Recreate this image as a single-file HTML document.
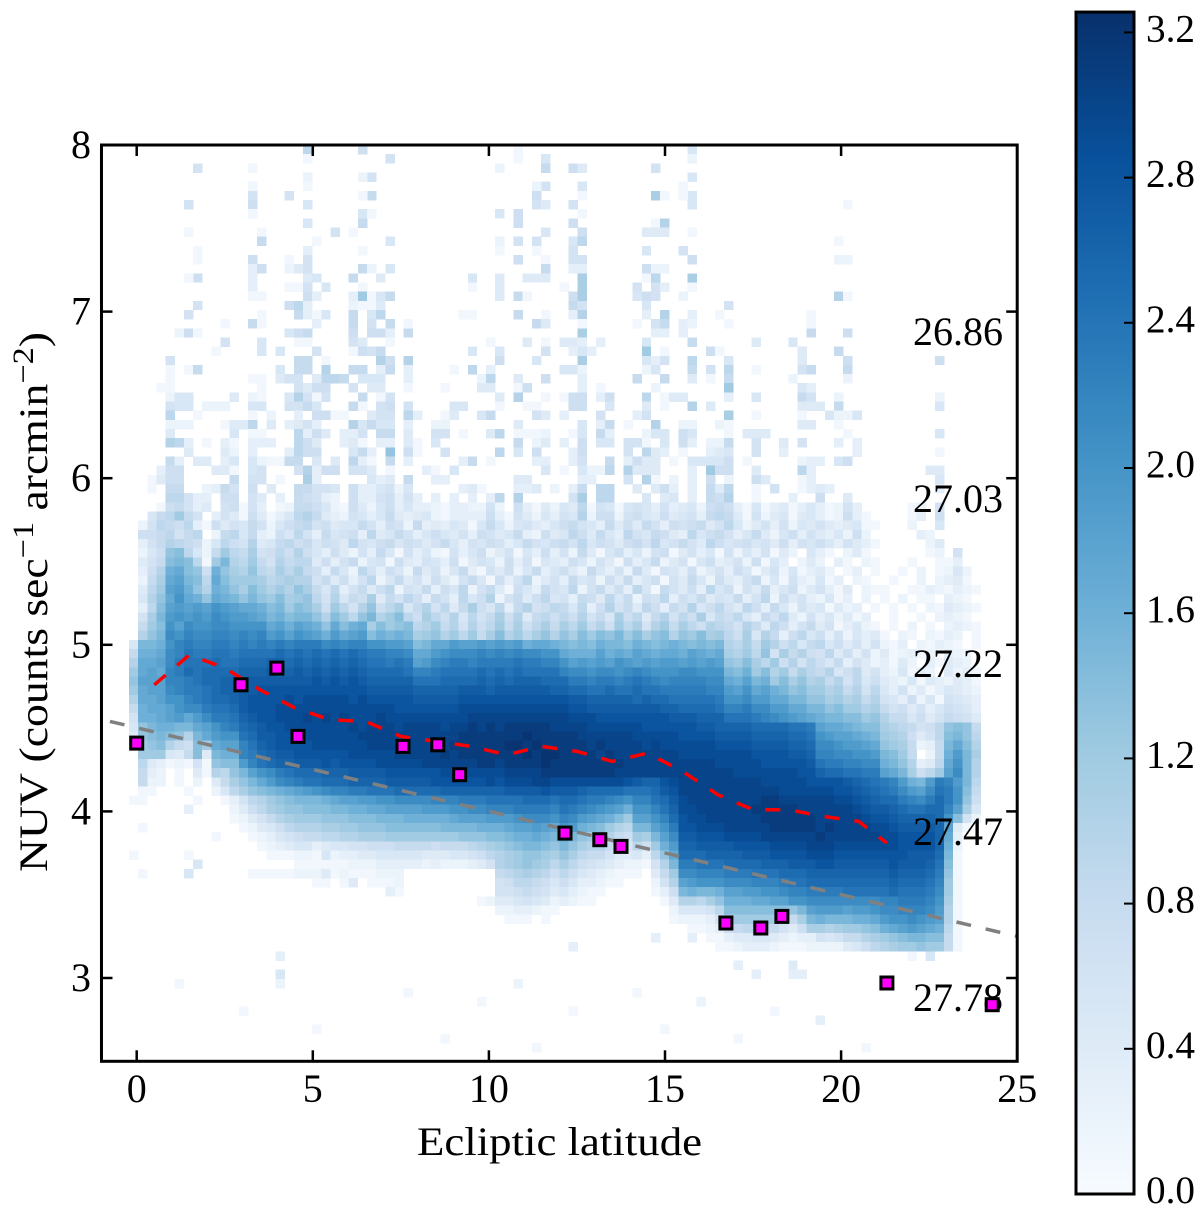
<!DOCTYPE html>
<html lang="en">
<head>
<meta charset="utf-8">
<title>NUV vs ecliptic latitude</title>
<style>
html,body{margin:0;padding:0;background:#fff}
svg{display:block}
text{font-family:"Liberation Serif",serif;fill:#000}
</style>
</head>
<body>
<svg id="chart" xmlns="http://www.w3.org/2000/svg" width="1200" height="1215" viewBox="0 0 1200 1215">
<defs>
<linearGradient id="blues-gradient" x1="0" y1="1" x2="0" y2="0">
<stop offset="0" stop-color="#f7fbff"/><stop offset="0.125" stop-color="#deebf7"/><stop offset="0.25" stop-color="#c6dbef"/><stop offset="0.375" stop-color="#9ecae1"/><stop offset="0.5" stop-color="#6baed6"/><stop offset="0.625" stop-color="#4292c6"/><stop offset="0.75" stop-color="#2171b5"/><stop offset="0.875" stop-color="#08519c"/><stop offset="1" stop-color="#08306b"/>
</linearGradient>
</defs>
<g id="heat"></g>
<g id="lines"></g>
<g id="notes"></g>
<g id="points"></g>
<g id="axes"></g>
<text x="559.5" y="1155" font-size="40" text-anchor="middle" textLength="285" lengthAdjust="spacingAndGlyphs">Ecliptic latitude</text>
<text transform="translate(47,872) rotate(-90)" font-size="40" textLength="540" lengthAdjust="spacingAndGlyphs">NUV (counts sec<tspan font-size="30" dy="-14">−1</tspan><tspan dy="14"> arcmin</tspan><tspan font-size="30" dy="-14">−2</tspan><tspan dy="14">)</tspan></text>
<g id="cbar"></g>
</svg>
<script>
const xTicks = [0, 5, 10, 15, 20, 25];
const yTicks = [3, 4, 5, 6, 7, 8];
const cbarTicks = [0.0, 0.4, 0.8, 1.2, 1.6, 2.0, 2.4, 2.8, 3.2];
const cbarMax = 3.256;
const noteLabels = ["26.86", "27.03", "27.22", "27.47", "27.78"];
const noteValues = [6.866, 5.863, 4.873, 3.864, 2.868];
const pointLat = [0, 2.96, 3.98, 4.58, 7.56, 8.55, 9.17, 12.16, 13.15, 13.75, 16.73, 17.72, 18.32, 21.3, 24.29];
const pointNuv = [4.41, 4.76, 4.86, 4.45, 4.39, 4.40, 4.22, 3.87, 3.83, 3.79, 3.33, 3.30, 3.37, 2.97, 2.84];
const redLat = [0.5, 1.5, 2.5, 3.5, 4.5, 5.5, 6.5, 7.5, 8.5, 9.5, 10.5, 11.5, 12.5, 13.5, 14.5, 15.5, 16.5, 17.5, 18.5, 19.5, 20.5, 21.3];
const redNuv = [4.76, 4.94, 4.86, 4.73, 4.62, 4.55, 4.54, 4.45, 4.42, 4.39, 4.34, 4.39, 4.36, 4.30, 4.35, 4.24, 4.10, 4.01, 4.01, 3.97, 3.94, 3.81];
const grayLat = [-0.76, 25];
const grayNuv = [4.54, 3.25];
const binLatStart = -1;
const binLatSize = 0.26;
const binNuvTop = 8;
const binNuvSize = 0.055;
const firstBinCol = 3;
const denseFirstRow = 39;
// Sparse upper rows: each row lists column, value, column, value (value in tenths of log count)
const topBins = [
[19,9,25,7,61,5,42,1],
[28,6,19,1,45,5,61,2,42,1],
[7,6,13,1,45,8,40,2,48,7,49,4,57,6],
[26,6,25,2,19,2,61,5],
[19,1,45,6,44,2,13,1,49,5,60,1],
[44,7,13,6,17,6,26,8,25,1,57,11,58,1,61,5,49,1,60,1],
[44,6,45,4,6,6,13,7,19,5,48,6,61,5,78,1],
[25,5,26,1,13,1,40,5,42,7,49,1],
[19,5,25,8,42,7,48,7,57,1,58,10],
[6,1,14,1,22,6,24,1,45,5,49,7,56,4,57,4,58,4,61,1],
[14,8,20,1,28,5,40,2,42,6,44,6,48,5,49,9,77,1],
[19,3,7,1,25,1,40,1,44,1,48,6,56,5,60,6],
[13,7,19,6,7,1,17,1,42,7,45,1,48,6,49,6,61,7,77,2,78,2],
[13,3,14,7,17,2,18,4,19,6,25,8,26,2,28,5,45,8,48,3,49,3,56,7,57,2,58,2],
[7,7,6,1,13,3,19,4,20,5,24,8,27,4,37,5,40,4,43,4,44,4,45,4,49,11,57,9,56,1,61,11],
[13,3,17,1,18,1,19,6,21,5,25,1,37,1,40,4,47,1,49,11,55,6,57,6,58,3,61,1],
[13,1,14,1,19,7,20,3,24,3,25,12,26,1,27,5,28,8,40,4,42,8,43,1,48,7,49,11,55,5,56,7,57,6,60,2,77,10,78,1],
[7,6,17,7,18,9,19,3,24,2,25,1,26,1,27,4,48,8,49,6,56,5,65,6],
[6,6,14,1,18,8,19,3,20,1,21,5,24,8,26,5,27,9,36,1,37,1,42,8,45,1,48,3,49,10,56,3,58,10,61,3,64,1,74,1],
[10,1,13,8,14,1,20,3,24,8,26,6,28,8,30,1,44,8,45,4,49,1,55,1,57,6,58,8,60,3,61,2,65,1,74,1],
[5,2,6,7,7,1,17,5,18,7,19,8,24,7,26,7,27,7,28,3,30,8,49,11,57,3,58,3,60,3,74,8,78,7],
[10,6,14,5,18,1,19,1,24,6,25,4,28,1,39,1,43,4,45,1,47,4,48,4,49,3,51,3,56,5,61,8,68,4,72,5],
[9,1,14,5,16,5,20,6,24,1,25,7,26,6,27,8,37,5,40,5,45,6,48,3,49,5,50,3,56,12,58,1,63,7,64,1,73,4,77,8],
[4,6,18,8,19,8,21,1,27,10,28,7,30,10,40,7,44,5,49,11,56,5,57,3,58,6,61,9,65,5,73,4,78,7,88,7],
[4,1,6,1,7,8,16,5,18,8,19,8,21,10,24,8,25,8,27,3,28,8,30,3,35,1,37,9,39,3,47,5,48,5,49,2,56,2,57,5,61,8,63,6,65,9,68,1,73,6,74,8,78,8],
[4,1,13,1,14,1,16,4,17,6,18,6,20,4,21,9,22,9,23,8,25,5,26,5,27,5,30,3,38,2,39,9,42,4,45,7,49,3,55,8,58,8,61,4,63,1,65,8,72,2,78,2],
[3,1,4,1,14,1,18,6,19,4,20,7,21,7,24,6,26,4,27,4,30,1,34,1,38,4,39,4,42,1,43,7,49,3,51,1,57,2,65,12,73,5,74,3],
[4,2,5,5,6,5,11,4,13,2,14,1,17,5,18,10,19,6,20,1,21,6,25,8,27,1,28,6,40,4,42,10,45,1,47,1,48,7,49,7,51,3,52,7,56,9,58,1,59,4,60,4,65,3,68,5,73,8,74,6,77,2,88,2],
[4,6,5,5,6,5,8,2,9,2,10,2,13,5,14,5,17,6,18,6,19,8,20,5,24,8,25,1,27,6,28,7,30,6,35,5,36,5,40,1,43,1,44,1,48,7,49,7,52,5,56,4,58,1,61,10,63,4,73,4,74,4,75,4,77,8,88,5],
[4,9,7,1,13,1,15,2,18,3,20,7,21,7,22,1,23,1,26,4,27,6,28,6,30,9,31,3,34,1,35,4,38,5,39,8,44,6,45,4,47,3,51,6,55,3,56,6,65,11,68,1,73,1,76,5,77,2,78,2,79,5],
[4,2,5,2,6,2,10,1,11,4,12,4,13,9,15,4,17,3,18,4,19,6,20,3,24,10,25,5,26,8,27,5,28,5,30,3,33,2,34,2,42,4,49,5,51,3,52,8,54,1,57,10,60,2,61,2,64,2,65,1,73,4,74,4,77,1],
[4,4,11,5,13,1,14,1,18,9,19,3,20,7,21,4,23,3,24,3,25,6,27,8,28,8,30,4,33,6,34,6,36,1,39,4,40,9,42,1,43,1,44,1,45,2,48,1,49,5,51,8,52,3,56,2,57,5,58,5,60,7,61,5,65,1,67,4,68,4,69,4,78,1,88,5],
[4,10,5,9,6,3,8,1,10,3,11,1,13,3,14,3,15,3,18,9,19,7,20,4,23,3,24,4,25,1,27,3,28,3,30,4,31,1,33,5,42,8,44,2,45,4,47,3,49,7,51,5,52,5,54,6,55,6,56,1,58,5,60,7,61,3,63,2,64,2,65,8,68,6,71,4,73,6,77,3,79,3],
[6,4,10,4,11,2,13,3,17,3,18,9,19,7,20,7,24,5,25,8,26,3,28,13,30,7,31,1,34,6,40,9,42,5,44,7,48,3,49,7,54,6,56,9,57,4,58,3,60,1,63,3,64,4,65,5,68,6,71,3,79,3,88,1],
[4,8,5,3,7,4,8,4,10,3,11,5,13,5,14,2,15,1,16,1,17,8,18,8,20,5,22,4,24,9,25,3,26,1,28,8,30,3,36,3,37,8,39,1,44,3,45,3,48,3,49,6,52,8,54,3,55,7,56,4,57,4,59,1,61,5,62,5,63,5,64,5,65,7,67,1,73,2,74,3,75,3,77,5,78,7],
[3,3,4,7,5,7,9,4,10,4,11,1,13,5,14,6,18,6,19,10,20,3,21,7,22,7,24,6,25,6,26,4,28,1,32,3,33,1,35,5,45,5,47,1,49,5,50,2,51,2,52,9,54,10,55,4,56,4,57,4,61,3,63,12,64,7,65,7,68,4,73,9,74,3,87,4,88,4],
[2,1,3,4,4,7,5,7,11,8,13,6,14,6,16,1,19,11,20,3,26,5,27,3,28,4,30,8,33,3,34,3,42,4,43,4,49,3,50,3,54,6,56,10,57,1,59,2,61,3,63,7,65,2,68,7,69,4,73,1,74,3,88,5],
[2,1,4,8,5,8,8,2,9,3,10,8,11,6,13,7,15,4,18,8,19,8,20,6,21,6,22,5,24,7,25,3,26,3,27,5,28,6,29,2,30,5,36,3,37,4,38,1,42,3,43,3,44,4,46,2,48,3,49,8,51,9,52,9,55,4,57,4,58,7,59,3,61,3,63,8,64,4,65,9,68,1,70,6,73,1,74,3,75,4,76,3,88,3],
[4,9,5,9,6,6,7,3,8,3,10,7,11,7,13,6,14,4,16,3,18,8,19,7,20,6,21,3,22,2,24,7,25,3,26,3,27,6,28,7,29,3,30,6,31,3,33,3,35,3,37,3,39,3,40,9,42,10,48,6,49,11,51,9,52,9,56,5,58,4,59,5,61,3,63,8,64,7,65,10,68,1,72,3,75,7,78,4]
];
// Faint isolated bins below the band: row, column, value
const lowBins = [
[71,0,1],[72,6,3],[74,1,1],[75,9,1],[77,0,1],[77,6,1],[77,21,5],[78,7,5],[79,6,5],[79,1,1],[79,21,4],[79,29,2],[80,24,4],[81,28,3],
[86,57,3],[86,61,3],[86,74,3],[87,48,3],[87,67,3],[88,87,5],[88,85,1],[88,16,3],[89,66,3],[89,72,4],[90,68,3],[90,73,3],[90,16,5],[90,72,3],
[91,42,2],[91,16,2],[91,5,1],[92,30,1],[92,55,1],[93,38,1],[93,62,2],[94,12,1],[94,48,1],[94,70,1],[95,75,3],[96,20,1],[96,58,1],[97,34,1],[97,66,1],[98,44,1],[98,80,1]
];
// Dense band rows (columns 3..95), value in tenths of log count
const denseRows = [
[0,0,0,1,7,8,6,3,4,0,6,7,1,6,3,0,1,2,8,8,7,5,2,1,7,4,2,5,7,3,5,3,3,2,1,3,3,2,2,6,2,0,7,3,1,4,2,5,4,9,1,6,5,1,5,6,5,3,6,3,4,5,2,7,8,7,3,1,5,1,3,4,1,3,5,3,1,2,6,3,0,0,0,0,0,1,2,0,6,0,0,0,0],
[0,0,5,8,9,12,8,6,0,3,6,4,1,7,4,1,3,5,9,10,8,4,3,2,6,5,3,5,8,4,3,4,5,2,1,3,3,3,3,7,3,1,6,4,2,5,3,6,5,10,2,7,7,2,6,7,5,4,7,4,5,6,3,8,9,8,4,1,6,2,4,5,1,4,5,3,1,2,7,3,1,0,0,0,0,1,3,0,7,0,0,0,0],
[0,2,6,9,8,7,9,3,1,7,4,6,5,8,6,2,5,7,8,9,6,7,4,5,5,8,6,3,7,6,2,8,3,4,3,5,4,1,5,8,5,2,5,6,4,3,5,7,8,6,5,3,8,4,7,4,8,6,3,7,6,7,8,4,6,9,5,2,4,6,3,6,2,5,4,6,4,3,4,5,1,1,0,0,0,2,0,0,5,0,0,0,0],
[0,7,7,8,9,6,8,9,0,2,8,9,5,8,3,2,7,5,9,6,3,8,5,6,7,3,9,4,5,8,6,3,5,7,5,4,6,3,7,6,4,5,8,3,2,7,4,5,9,7,4,8,5,3,9,6,5,8,7,4,3,9,5,7,8,6,3,5,8,4,2,5,7,3,6,4,3,5,2,7,2,0,0,0,0,0,3,2,0,0,0,0,0],
[0,3,6,8,10,9,8,7,2,5,9,7,6,10,4,5,8,9,7,8,5,7,6,4,9,6,5,7,8,5,7,6,4,6,8,5,3,6,5,7,6,3,5,8,6,5,7,8,6,9,5,7,6,4,7,8,6,9,5,6,8,6,4,9,7,5,6,7,5,6,4,7,3,6,5,7,5,3,6,4,3,1,0,0,0,0,0,2,4,0,0,0,0],
[0,2,5,7,13,14,9,5,2,8,12,9,8,11,6,7,9,7,10,7,5,3,7,4,2,6,3,8,5,1,6,3,5,2,1,6,3,5,7,2,4,6,1,5,3,7,3,6,2,8,4,1,5,7,3,5,2,6,7,1,4,6,3,5,1,6,2,5,3,6,1,4,2,0,5,3,1,0,2,4,1,0,0,0,0,0,0,1,2,0,6,0,0],
[0,4,6,8,14,15,14,9,1,12,15,10,9,12,8,6,10,8,9,9,4,7,3,6,8,2,5,6,1,7,4,3,6,5,3,7,1,4,6,5,2,7,3,6,1,5,4,3,7,5,2,6,4,1,7,3,5,8,2,4,6,1,5,7,3,4,6,2,7,1,5,3,0,2,4,2,0,3,1,0,2,1,0,0,0,1,0,0,1,1,3,0,0],
[0,3,7,10,16,17,14,13,7,16,13,11,10,13,9,8,11,9,11,8,7,3,8,5,2,9,6,3,7,5,2,8,4,6,2,5,8,3,1,6,4,7,2,5,8,3,5,7,4,2,8,5,3,6,2,8,4,1,6,5,3,7,2,4,6,3,7,5,1,4,6,2,5,1,3,4,2,0,1,3,0,1,0,0,1,0,2,0,1,2,5,2,0],
[0,2,8,11,17,18,15,14,9,17,14,12,12,12,11,9,10,11,10,10,6,8,4,7,3,6,9,2,5,8,4,6,3,7,4,2,6,8,5,1,7,3,6,9,2,4,6,3,8,5,6,2,7,4,8,3,5,7,1,6,4,8,5,2,7,4,3,6,8,2,5,1,6,3,2,5,1,3,0,2,1,0,0,1,0,0,2,0,2,3,4,1,0],
[0,4,9,12,18,19,16,13,10,16,15,13,11,14,12,10,12,10,13,11,8,5,9,3,6,8,4,7,9,2,6,5,8,3,7,5,9,2,6,8,4,1,7,5,3,8,6,5,9,2,6,8,4,7,3,9,5,1,8,6,4,7,3,9,5,7,2,6,4,8,3,5,7,2,4,6,3,1,4,0,2,1,1,0,0,1,1,3,2,1,3,2,1],
[0,5,10,13,17,20,17,16,13,17,16,15,13,15,13,12,14,11,12,13,9,6,10,5,8,7,11,4,8,6,9,7,3,8,6,3,9,5,7,10,2,6,8,4,7,9,5,6,3,8,7,4,9,5,8,2,7,6,9,3,7,5,8,4,6,5,8,3,6,9,2,7,4,6,3,2,5,1,3,0,2,0,1,0,2,0,1,1,0,3,2,1,0],
[0,3,9,14,18,19,18,19,18,20,19,18,17,17,16,14,15,12,14,13,11,7,12,9,6,10,13,7,9,11,5,8,10,6,9,4,8,11,7,5,9,3,8,10,6,7,9,8,5,9,3,7,10,6,8,4,9,7,3,8,6,10,5,7,9,6,4,9,7,3,8,5,2,6,4,5,1,4,2,3,0,1,0,1,0,1,0,2,1,4,3,2,1],
[0,6,11,15,19,20,19,20,19,21,20,19,19,18,17,15,16,14,15,15,13,10,14,12,9,13,15,10,12,14,9,7,11,9,7,10,5,9,6,8,11,7,10,4,8,9,7,9,7,10,6,8,5,11,7,9,4,8,10,6,9,7,11,5,8,7,9,5,3,8,6,9,4,2,6,3,5,2,4,1,3,0,0,1,0,0,1,0,2,3,2,1,0],
[0,8,12,14,20,18,21,20,20,21,21,20,20,20,20,17,18,16,18,17,16,13,17,14,16,17,11,14,12,13,14,9,10,12,8,10,6,10,7,9,12,8,11,7,9,11,8,11,9,12,8,10,7,12,9,11,6,10,12,8,11,9,7,10,9,8,6,10,8,4,9,7,3,6,8,4,6,1,3,5,2,1,0,1,0,2,0,1,0,2,3,2,1],
[0,10,13,15,21,20,22,21,21,22,22,21,22,21,22,19,20,18,20,19,18,16,19,17,18,19,14,16,15,16,15,11,12,13,10,12,9,12,8,11,14,10,12,9,11,13,10,13,11,14,12,14,13,15,12,14,11,13,14,10,13,12,14,11,12,9,7,11,5,10,8,3,7,9,5,7,3,6,2,5,3,4,1,0,2,1,0,2,1,3,2,0,1],
[5,15,15,16,20,22,23,22,22,23,23,22,23,22,23,22,23,22,23,23,23,21,22,21,22,22,20,20,19,19,18,14,15,17,17,19,18,18,19,18,19,18,19,16,17,17,16,15,14,15,14,16,15,15,14,16,15,14,15,16,15,14,15,14,15,10,9,11,8,12,10,7,9,5,8,9,5,7,4,6,3,6,2,1,3,0,2,1,3,2,1,0,1],
[8,16,16,17,21,22,24,23,23,24,24,23,24,24,24,24,25,24,25,24,25,24,25,24,25,24,23,23,22,22,21,17,17,19,20,21,21,21,22,21,22,21,22,21,21,20,20,17,16,16,16,18,16,17,16,18,17,16,17,17,16,18,17,16,17,11,10,12,9,13,6,11,8,10,7,6,9,4,7,3,6,2,4,1,2,3,1,2,0,3,2,1,0],
[10,17,17,18,21,23,24,24,24,25,24,24,25,25,25,26,26,25,26,25,26,25,26,25,26,25,24,24,23,24,23,18,19,21,22,23,23,22,23,23,23,23,24,23,23,22,22,20,18,19,18,19,18,20,19,18,19,18,19,19,18,19,18,19,18,13,12,14,11,9,12,7,10,6,9,7,5,8,3,6,4,2,3,1,4,2,0,3,1,4,3,2,0],
[12,17,18,17,22,23,25,24,25,25,25,25,26,26,26,27,26,26,27,26,27,26,27,26,27,26,25,25,25,25,24,22,22,23,24,24,24,24,25,24,25,24,25,24,24,24,24,22,21,21,20,21,21,20,21,22,21,20,20,20,21,21,20,20,20,15,14,16,12,14,10,12,8,11,9,8,10,5,7,9,4,6,3,2,5,1,3,2,0,4,2,3,1],
[13,18,18,18,22,22,23,24,25,25,26,26,26,27,27,27,27,27,27,27,28,27,28,27,28,27,26,26,26,26,26,24,24,24,25,25,25,25,26,25,26,25,26,26,26,25,25,25,23,23,22,23,23,22,23,24,23,22,21,22,22,22,22,21,21,17,16,18,15,16,12,14,11,13,10,11,8,10,6,9,5,7,4,3,2,5,1,4,3,2,4,3,1],
[12,17,18,18,21,22,23,23,24,25,26,26,27,27,28,28,28,28,28,28,28,28,28,28,28,28,27,27,27,27,27,26,26,26,26,26,27,27,27,26,27,27,27,27,27,27,26,26,25,25,24,24,25,24,24,25,24,24,23,23,23,23,23,22,22,19,18,20,17,18,16,15,13,14,12,12,10,11,8,10,6,9,5,3,6,2,4,1,3,5,4,3,2],
[10,17,17,18,20,20,22,23,24,25,25,26,27,28,28,28,28,29,28,29,29,29,29,29,28,29,28,28,28,28,28,27,27,27,27,27,28,28,28,28,28,28,28,28,28,28,28,28,27,27,26,26,26,26,26,25,26,25,25,24,24,24,24,24,23,20,20,21,19,19,17,17,15,15,13,13,11,12,10,11,8,10,6,5,3,7,2,5,1,6,5,4,3],
[8,16,17,17,18,20,21,21,23,24,24,25,27,28,28,28,29,29,29,29,29,29,29,29,29,29,29,29,29,28,28,28,28,28,28,28,29,29,29,29,29,29,29,29,29,29,29,29,28,28,27,27,27,27,27,27,27,27,26,26,25,25,25,25,24,22,22,23,21,21,19,19,17,17,15,15,13,14,12,12,10,11,8,6,7,4,6,3,5,7,6,5,3],
[6,16,16,17,18,19,17,19,21,23,23,24,26,27,28,28,29,29,29,30,29,30,29,30,29,29,29,30,29,29,29,29,29,29,29,29,29,30,30,30,30,30,30,30,30,30,30,30,29,29,29,28,28,28,28,28,28,28,28,27,27,27,26,26,26,24,24,24,23,22,21,20,19,18,17,16,15,15,14,14,12,13,10,8,8,5,7,4,6,8,7,6,4],
[5,13,15,16,16,15,15,17,18,20,22,23,25,26,27,28,28,29,29,29,29,29,29,29,30,29,30,30,30,29,30,30,30,30,29,30,30,31,30,31,30,31,31,31,31,31,30,30,30,30,29,29,29,29,29,29,28,28,28,28,28,28,27,27,26,26,26,26,25,25,25,25,24,24,23,18,17,17,16,15,14,14,11,10,9,8,6,7,9,13,14,13,8],
[4,13,14,15,14,13,10,15,17,19,20,20,24,25,27,27,28,28,29,29,29,29,29,29,29,30,30,30,30,30,30,30,30,30,30,30,31,31,31,31,31,31,31,32,31,31,31,31,31,30,30,30,30,30,30,29,29,29,29,29,28,28,28,28,27,27,27,27,26,26,26,26,25,25,24,20,19,18,18,17,16,15,12,11,10,7,4,6,9,14,15,13,9],
[3,12,13,14,10,8,7,14,12,17,18,18,22,24,26,27,28,28,28,28,29,29,29,29,29,29,30,30,30,30,30,30,30,31,30,31,31,31,31,31,31,32,32,31,32,31,31,31,31,31,30,31,30,30,30,30,29,30,29,29,29,29,29,29,28,28,28,28,27,27,27,27,26,26,25,21,21,20,19,19,18,17,13,12,11,8,2,3,8,15,17,14,10],
[0,12,12,12,5,4,8,14,4,15,16,16,22,23,25,26,27,27,28,28,28,28,28,28,29,29,29,29,29,30,30,30,30,30,31,30,31,31,31,31,31,31,31,32,31,32,32,31,31,31,31,30,31,30,30,30,30,30,30,30,29,29,29,29,29,29,29,29,28,28,28,28,27,27,26,22,22,21,21,20,20,19,15,14,12,8,0,2,8,16,19,15,11],
[0,9,4,3,1,2,1,6,1,13,14,14,19,22,24,25,26,26,27,27,27,28,27,28,28,28,28,29,29,29,29,29,30,30,30,30,30,30,31,31,30,31,31,31,31,32,31,31,31,31,31,31,31,31,30,30,30,30,30,30,30,30,30,30,29,29,29,29,29,28,28,28,28,28,27,24,23,23,22,22,21,21,16,15,13,10,3,4,9,17,20,15,10],
[0,8,3,2,0,1,0,4,1,10,9,13,15,18,20,21,23,24,25,25,25,26,26,26,27,27,27,27,28,28,28,28,28,28,29,29,29,29,29,29,29,30,30,30,30,31,31,31,31,31,31,31,31,30,30,30,30,30,30,30,30,30,30,30,30,30,29,29,29,29,29,29,29,28,28,26,25,25,24,24,23,23,18,17,15,11,7,9,12,18,21,15,10],
[0,8,2,2,0,1,0,2,0,4,8,11,13,15,17,19,21,22,23,24,24,25,25,25,26,26,26,26,27,27,27,27,27,28,28,28,28,28,28,29,28,29,29,29,30,30,29,29,29,29,29,29,29,29,28,27,26,26,28,29,30,30,30,30,30,30,30,30,30,29,29,29,29,29,28,28,28,28,27,26,25,24,23,22,19,16,15,19,23,22,19,15,9],
[0,1,1,0,0,0,1,0,0,2,5,9,11,13,14,15,16,17,18,19,20,21,22,22,23,23,24,24,24,25,25,25,25,25,26,26,26,26,26,26,26,27,27,27,27,28,27,27,27,26,25,25,25,25,24,24,24,25,27,28,30,30,30,30,30,30,30,30,30,30,30,29,29,29,29,29,29,28,28,27,26,25,24,23,21,19,18,21,24,23,20,14,8],
[0,1,0,0,0,0,0,1,0,0,1,3,6,9,10,12,13,14,15,15,15,16,17,18,18,19,19,20,20,21,21,21,21,22,22,22,23,23,23,24,24,24,24,25,25,25,24,25,25,24,23,23,22,21,20,22,22,24,25,27,29,30,30,30,30,30,30,30,30,31,31,30,30,30,30,30,30,29,29,28,27,26,25,25,23,22,21,23,25,23,20,13,7],
[0,0,0,0,0,0,0,0,0,0,0,2,4,7,9,11,12,13,13,14,14,14,15,15,16,16,17,17,18,18,18,18,19,19,19,20,20,21,21,22,22,22,23,23,23,23,22,24,23,22,21,20,19,18,16,20,20,22,24,26,29,29,30,30,30,30,30,30,31,31,31,31,31,30,30,30,30,30,30,29,28,27,27,26,25,24,24,25,25,22,18,11,5],
[0,0,0,0,0,0,0,0,0,0,0,1,2,4,6,8,10,11,12,12,12,13,13,13,14,14,14,15,15,15,16,16,16,16,16,17,18,18,18,19,19,19,20,21,21,21,20,22,21,19,18,17,16,14,12,18,18,20,22,25,28,29,29,30,30,30,30,30,30,31,31,31,31,31,31,30,30,30,30,30,29,28,28,27,26,26,26,26,25,20,14,6,2],
[0,0,0,0,0,0,0,0,0,0,0,0,1,2,4,5,7,9,10,10,10,11,11,12,12,13,13,13,14,14,14,14,14,14,15,15,15,15,16,16,16,17,18,18,19,18,17,20,19,16,15,14,12,10,9,15,15,18,20,23,28,28,29,29,29,30,30,30,30,30,31,31,31,31,31,30,31,30,30,30,30,29,29,28,27,27,27,27,26,18,4,1,0],
[0,0,0,0,0,0,0,0,0,0,0,0,0,1,2,3,5,6,7,8,8,9,9,10,10,11,11,11,12,12,12,12,12,12,12,12,13,13,13,14,14,15,16,16,17,16,15,17,15,13,12,12,10,8,7,12,11,15,18,21,27,27,28,28,28,29,29,29,29,30,30,30,30,30,30,31,30,30,30,30,30,30,29,29,28,28,28,28,26,17,3,0,0],
[0,0,0,0,0,0,0,0,0,0,0,0,0,0,1,2,3,4,5,5,3,4,5,5,6,6,7,7,7,8,8,8,8,7,8,8,8,9,10,11,12,13,14,15,15,14,13,15,13,11,10,10,8,6,5,9,7,12,16,19,26,26,27,27,27,27,28,28,28,28,29,29,29,29,30,30,30,29,29,29,29,29,29,29,28,28,28,28,26,16,2,0,0],
[0,0,0,0,0,0,0,0,0,0,0,0,0,0,0,1,1,1,2,2,1,2,2,3,3,4,4,5,5,5,5,5,4,4,4,5,5,6,7,9,10,11,12,13,13,12,11,13,11,9,8,8,6,4,4,5,3,9,13,17,25,25,25,26,26,26,26,27,27,27,28,28,28,28,29,29,29,28,28,28,28,28,28,28,28,27,27,27,25,15,1,0,0],
[0,0,0,0,0,0,0,0,0,0,0,0,0,0,0,0,0,0,1,1,1,1,1,1,2,2,2,3,3,3,3,3,2,3,2,2,2,3,4,6,10,11,12,13,12,11,9,11,9,7,6,5,4,3,2,2,1,6,10,15,23,23,24,24,24,25,25,25,25,26,26,26,27,27,27,28,28,27,27,27,27,27,27,28,27,27,27,26,24,14,1,0,0],
[0,0,0,0,0,0,0,0,0,0,0,0,0,1,1,1,1,1,2,2,2,2,1,2,1,1,1,2,2,4,0,0,0,0,0,0,0,0,0,0,8,9,10,11,10,9,7,9,7,5,4,3,2,1,1,1,0,4,8,12,21,21,22,22,22,23,23,23,24,24,24,25,25,25,26,26,26,26,26,26,26,26,26,27,26,26,26,25,23,13,1,0,0],
[0,0,0,0,0,0,0,0,0,0,0,0,0,0,0,0,0,0,0,0,1,1,0,1,0,0,1,1,1,2,0,0,0,0,0,0,0,0,0,0,6,7,9,9,8,7,5,7,5,3,3,2,1,1,0,0,0,2,6,10,18,19,20,20,20,21,21,21,22,22,22,23,24,24,25,25,25,25,25,25,25,25,25,26,25,25,25,24,22,12,1,0,0],
[0,0,0,0,0,0,0,0,0,0,0,0,0,0,0,0,0,0,0,0,0,0,0,0,0,0,0,0,1,1,0,0,0,0,0,0,0,0,0,0,6,6,7,8,7,6,4,5,3,2,1,1,0,0,0,0,0,1,3,7,15,16,15,15,16,18,18,19,19,20,20,21,22,22,23,23,23,23,24,24,24,24,24,25,24,24,24,23,21,12,1,0,0],
[0,0,0,0,0,0,0,0,0,0,0,0,0,0,0,0,0,0,0,0,0,0,0,0,0,0,0,0,0,0,0,0,0,0,0,0,0,0,1,2,4,4,5,6,5,4,2,3,2,1,1,0,0,0,0,0,0,0,1,4,10,10,9,11,13,16,16,16,17,17,18,18,20,20,21,21,21,21,21,21,21,21,22,22,23,23,23,22,20,11,1,0,0],
[0,0,0,0,0,0,0,0,0,0,0,0,0,0,0,0,0,0,0,0,0,0,0,0,0,0,0,0,0,0,0,0,0,0,0,0,0,0,0,0,2,2,3,3,2,1,1,0,0,0,0,0,0,0,0,0,0,0,0,2,5,5,5,6,9,14,14,14,14,14,14,14,13,15,18,19,19,19,18,19,19,20,21,21,22,22,22,21,19,10,1,0,0],
[0,0,0,0,0,0,0,0,0,0,0,0,0,0,0,0,0,0,0,0,0,0,0,0,0,0,0,0,0,0,0,0,0,0,0,0,0,0,0,0,0,1,1,1,0,1,0,0,0,0,0,0,0,0,0,0,0,0,0,1,2,2,2,3,6,11,12,12,12,12,12,10,8,11,15,16,15,15,15,16,16,17,19,20,20,21,20,19,18,10,1,0,0],
[0,0,0,0,0,0,0,0,0,0,0,0,0,0,0,0,0,0,0,0,0,0,0,0,0,0,0,0,0,0,0,0,0,0,0,0,0,0,0,0,0,0,0,0,0,0,0,0,0,0,0,0,0,0,0,0,0,0,0,0,0,1,1,2,3,7,8,9,9,9,8,6,4,7,11,11,10,11,12,12,13,14,16,17,18,19,18,17,16,9,1,0,0],
[0,0,0,0,0,0,0,0,0,0,0,0,0,0,0,0,0,0,0,0,0,0,0,0,0,0,0,0,0,0,0,0,0,0,0,0,0,0,0,0,0,0,0,0,0,0,0,0,0,0,0,0,0,0,0,0,0,0,0,0,0,0,0,1,1,3,4,4,5,5,4,3,2,3,6,6,5,6,8,8,10,11,12,13,14,15,15,14,14,8,1,0,0],
[0,0,0,0,0,0,0,0,0,0,0,0,0,0,0,0,0,0,0,0,0,0,0,0,0,0,0,0,0,0,0,0,0,0,0,0,0,0,0,0,0,0,0,0,0,0,0,0,0,0,0,0,0,0,0,0,0,0,0,0,0,0,0,0,1,1,2,2,3,3,2,1,1,1,2,2,2,2,4,5,7,9,10,11,12,12,13,12,12,8,1,0,0]
];
const SVG_NS = 'http://www.w3.org/2000/svg';
const xPx = v => 136.7 + v * 35.22;
const yPx = v => 978 + (3 - v) * 166.6;
const cbarY = v => 1194 - v * 363;
const BLUES = [[247,251,255],[222,235,247],[198,219,239],[158,202,225],[107,174,214],[66,146,198],[33,113,181],[8,81,156],[8,48,107]];
function blues(v) {
  const t = Math.max(0, Math.min(1, v / 3.25)) * 8;
  const k = Math.min(7, Math.floor(t));
  const f = t - k;
  const c = [0, 1, 2].map(n => Math.round(BLUES[k][n] + (BLUES[k + 1][n] - BLUES[k][n]) * f));
  return 'rgb(' + c.join(',') + ')';
}
function make(tag, parent, attrs) {
  const el = document.createElementNS(SVG_NS, tag);
  Object.keys(attrs).forEach(k => el.setAttribute(k, attrs[k]));
  parent.appendChild(el);
  return el;
}
const heat = document.getElementById('heat');
function cell(col, row, tenths) {
  if (!tenths) return;
  const lat = binLatStart + (col + firstBinCol) * binLatSize;
  const nuv = binNuvTop - row * binNuvSize;
  const x0 = xPx(lat), x1 = xPx(lat + binLatSize);
  const y0 = yPx(nuv), y1 = yPx(nuv - binNuvSize);
  const el = make('rect', heat, {x: x0.toFixed(2), y: y0.toFixed(2), width: (x1 - x0 + 0.3).toFixed(2), height: (y1 - y0 + 0.3).toFixed(2), fill: blues(tenths / 10), 'shape-rendering': 'crispEdges'});
  
  
}
topBins.forEach((pairs, row) => {
  for (let n = 0; n < pairs.length; n += 2) cell(pairs[n], row, pairs[n + 1]);
});
denseRows.forEach((vals, r) => {
  vals.forEach((v, col) => cell(col, denseFirstRow + r, v));
});
lowBins.forEach(b => cell(b[1], b[0], b[2]));

const lines = document.getElementById('lines');
const grayPts = grayLat.map((v, n) => xPx(v).toFixed(1) + ',' + yPx(grayNuv[n]).toFixed(1)).join(' ');
const grayLine = make('polyline', lines, {points: grayPts, fill: 'none', stroke: '#808080', 'stroke-width': 3.5, 'stroke-dasharray': '15 15'});


const redPts = redLat.map((v, n) => xPx(v).toFixed(1) + ',' + yPx(redNuv[n]).toFixed(1)).join(' ');
const redLine = make('polyline', lines, {points: redPts, fill: 'none', stroke: '#ff0000', 'stroke-width': 3.5, 'stroke-dasharray': '15 15'});



const notes = document.getElementById('notes');
noteLabels.forEach((label, n) => {
  const t = make('text', notes, {x: 913, y: (yPx(noteValues[n]) + 11).toFixed(1), 'font-size': 40});
  t.textContent = label;
  
  
});

const points = document.getElementById('points');
pointLat.forEach((lat, n) => {
  const p = make('rect', points, {x: (xPx(lat) - 6).toFixed(1), y: (yPx(pointNuv[n]) - 6).toFixed(1), width: 12, height: 12, fill: '#ff00ff', stroke: '#000', 'stroke-width': 3});
  
  
});

const axes = document.getElementById('axes');
const box = make('rect', axes, {x: xPx(-1), y: yPx(8), width: xPx(25) - xPx(-1), height: yPx(2.5) - yPx(8), fill: 'none', stroke: '#000', 'stroke-width': 3});


xTicks.forEach(v => {
  const x = xPx(v);
  const a = make('line', axes, {x1: x, x2: x, y1: yPx(2.5), y2: yPx(2.5) - 11, stroke: '#000', 'stroke-width': 2.5});
  
  
  const b = make('line', axes, {x1: x, x2: x, y1: yPx(8), y2: yPx(8) + 11, stroke: '#000', 'stroke-width': 2.5});
  
  
  const t = make('text', axes, {x: x, y: 1102, 'font-size': 40, 'text-anchor': 'middle'});
  t.textContent = v;
  
  
});
yTicks.forEach(v => {
  const y = yPx(v);
  const a = make('line', axes, {x1: xPx(-1), x2: xPx(-1) + 11, y1: y, y2: y, stroke: '#000', 'stroke-width': 2.5});
  
  
  const b = make('line', axes, {x1: xPx(25), x2: xPx(25) - 11, y1: y, y2: y, stroke: '#000', 'stroke-width': 2.5});
  
  
  const t = make('text', axes, {x: 91, y: y + 13, 'font-size': 40, 'text-anchor': 'end'});
  t.textContent = v;
  
  
});

const cbar = document.getElementById('cbar');
const cbarFill = make('rect', cbar, {x: 1076, y: cbarY(cbarMax), width: 58, height: cbarY(0) - cbarY(cbarMax), fill: 'url(#blues-gradient)', stroke: '#000', 'stroke-width': 3});


cbarTicks.forEach(v => {
  const y = cbarY(v);
  const a = make('line', cbar, {x1: 1124, x2: 1134, y1: y, y2: y, stroke: '#000', 'stroke-width': 2});
  
  
  const t = make('text', cbar, {x: 1146, y: y + 9, 'font-size': 39, textLength: 49, lengthAdjust: 'spacingAndGlyphs'});
  t.textContent = v.toFixed(1);
  
  
});
</script>
</body>
</html>
